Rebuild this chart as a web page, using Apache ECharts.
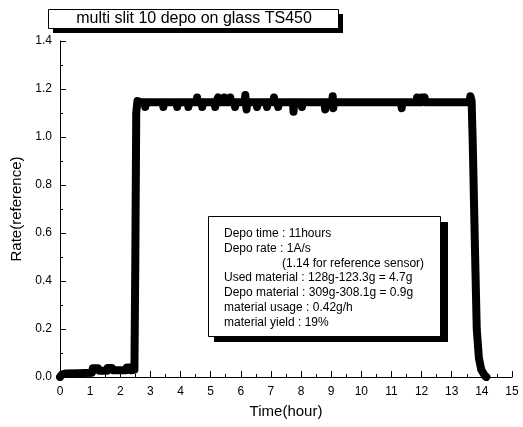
<!DOCTYPE html>
<html>
<head>
<meta charset="utf-8">
<script src="https://cdn.jsdelivr.net/npm/echarts@6/dist/echarts.min.js"></script>
<style>
  html, body { margin: 0; padding: 0; background: #fff; }
  #main { width: 523px; height: 427px; }
</style>
</head>
<body>
<div id="main"></div>
<script>
// data
var timeH = [
  0.00, 0.06, 0.20, 0.60, 1.06, 1.09, 1.27, 1.30, 1.56, 1.58, 1.73, 1.76, 2.20, 2.22, 2.33, 2.36,
  2.47, 2.50, 2.53, 2.57, 2.62, 2.70,
  2.81, 2.83, 2.85, 3.41, 3.43, 3.45, 3.87, 3.89, 3.91, 4.24, 4.26, 4.28,
  4.53, 4.55, 4.57, 4.70, 4.72, 4.74, 5.13, 5.15, 5.17, 5.23, 5.25, 5.27,
  5.43, 5.45, 5.47, 5.63, 5.65, 5.67, 5.79, 5.81, 5.83, 6.13, 6.15, 6.19, 6.21,
  6.52, 6.54, 6.56, 6.85, 6.87, 6.89, 7.08, 7.10, 7.12, 7.22, 7.24, 7.26,
  7.73, 7.75, 7.77, 8.01, 8.03, 8.05, 8.78, 8.80, 8.82, 9.03, 9.05, 9.07, 9.09,
  11.32, 11.34, 11.36, 11.83, 11.85, 11.87, 11.98, 12.00, 12.02, 12.08, 12.10, 12.12,
  13.58, 13.62, 13.66, 13.70, 13.77, 13.83, 13.90, 13.98, 14.10, 14.15
];
var rate = [
  0.000, 0.010, 0.015, 0.016, 0.018, 0.036, 0.036, 0.026, 0.026, 0.038, 0.038, 0.028, 0.028, 0.040, 0.040, 0.028,
  0.030, 0.500, 1.100, 1.150, 1.155, 1.145,
  1.145, 1.125, 1.145, 1.145, 1.125, 1.145, 1.145, 1.125, 1.145, 1.145, 1.125, 1.145,
  1.145, 1.165, 1.145, 1.145, 1.125, 1.145, 1.145, 1.125, 1.145, 1.145, 1.165, 1.145,
  1.145, 1.165, 1.145, 1.145, 1.165, 1.145, 1.145, 1.125, 1.145, 1.145, 1.175, 1.115, 1.145,
  1.145, 1.125, 1.145, 1.145, 1.125, 1.145, 1.145, 1.165, 1.145, 1.145, 1.125, 1.145,
  1.145, 1.105, 1.145, 1.145, 1.125, 1.145, 1.145, 1.115, 1.145, 1.145, 1.170, 1.120, 1.145,
  1.145, 1.120, 1.145, 1.145, 1.165, 1.145, 1.145, 1.165, 1.145, 1.145, 1.165, 1.145,
  1.145, 1.170, 1.150, 0.960, 0.540, 0.200, 0.080, 0.030, 0.005, 0.000
];
var xTicks = { min: 0, max: 15, step: 1 };
var yTicks = { min: 0, max: 1.4, step: 0.2 };
var titleText = 'multi slit 10 depo on glass TS450';
var noteLines = [
  'Depo time : 11hours',
  'Depo rate : 1A/s',
  '(1.14 for reference sensor)',
  'Used material : 128g-123.3g = 4.7g',
  'Depo material : 309g-308.1g = 0.9g',
  'material usage : 0.42g/h',
  'material yield : 19%'
];

var FONT = '"Liberation Sans", Arial, sans-serif';
var chart = echarts.init(document.getElementById('main'));

var noteText = noteLines.map(function (s, i) {
  return {
    type: 'text', z: 101,
    style: {
      text: s, x: i === 2 ? 282 : 224, y: 234 + i * 14.7,
      font: '12px ' + FONT, fill: '#000', verticalAlign: 'middle', align: 'left'
    }
  };
});

var axisCommon = {
  type: 'value',
  axisLine: { show: true, lineStyle: { color: '#000', width: 1 } },
  axisTick: { show: true, inside: true, length: 6, lineStyle: { color: '#000' } },
  minorTick: { show: true, splitNumber: 2, length: 3, lineStyle: { color: '#000' } },
  splitLine: { show: false },
  nameLocation: 'middle',
  nameTextStyle: { color: '#000', fontSize: 15, fontFamily: FONT }
};

chart.setOption({
  animation: false,
  grid: { left: 60, right: 11, top: 41, bottom: 50 },
  xAxis: Object.assign({}, axisCommon, {
    min: xTicks.min, max: xTicks.max, interval: xTicks.step,
    name: 'Time(hour)', nameGap: 27,
    axisLabel: { color: '#000', fontSize: 12, fontFamily: FONT, margin: 9 }
  }),
  yAxis: Object.assign({}, axisCommon, {
    min: yTicks.min, max: yTicks.max, interval: yTicks.step,
    name: 'Rate(reference)', nameGap: 36,
    axisLabel: {
      color: '#000', fontSize: 12, fontFamily: FONT, margin: 8,
      formatter: function (v) { return v.toFixed(1); }
    }
  }),
  series: [{
    type: 'line',
    data: timeH.map(function (t, i) { return [t, rate[i]]; }),
    showSymbol: false,
    lineStyle: { color: '#000', width: 8, join: 'round', cap: 'round' },
    clip: true
  }],
  graphic: [
    { type: 'rect', z: 100, shape: { x: 53, y: 14, width: 290, height: 19 }, style: { fill: '#000' } },
    { type: 'rect', z: 100, shape: { x: 48.5, y: 9.5, width: 290, height: 19 }, style: { fill: '#fff', stroke: '#000', lineWidth: 1 } },
    { type: 'text', z: 101, style: { text: titleText, x: 194, y: 19, font: '16px ' + FONT, fill: '#000', align: 'center', verticalAlign: 'middle' } },
    { type: 'rect', z: 100, shape: { x: 214, y: 222, width: 234, height: 120 }, style: { fill: '#000' } },
    { type: 'rect', z: 100, shape: { x: 208.5, y: 216.5, width: 232, height: 120 }, style: { fill: '#fff', stroke: '#000', lineWidth: 1 } }
  ].concat(noteText)
});
</script>
</body>
</html>
